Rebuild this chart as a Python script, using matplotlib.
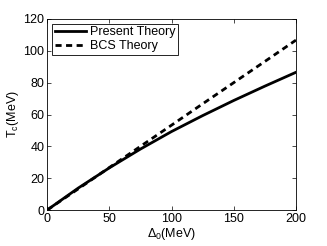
import matplotlib
matplotlib.use("Agg")
import matplotlib.pyplot as plt

plt.rcParams.update({"font.family": ["Liberation Sans", "DejaVu Sans"], "font.size": 9,
                     "mathtext.fontset": "custom", "mathtext.rm": "Liberation Sans",
                     "mathtext.it": "Liberation Sans"})

delta0 = [0, 25, 50, 75, 100, 125, 150, 175, 200]
present = [0, 13.8, 26.5, 38.3, 49.3, 59.3, 68.8, 77.8, 86.5]
bcs = [0, 13.3, 26.7, 40.0, 53.3, 66.7, 80.0, 93.3, 106.7]

fig = plt.figure(figsize=(3.27, 2.46), dpi=100)
ax = fig.add_axes([0.144, 0.146, 0.761, 0.777])
ax.plot(delta0, present, "k-", lw=2, label="Present Theory")
ax.plot(delta0, bcs, "k--", lw=2, dashes=(2.2, 1.6), label="BCS Theory")
ax.set_xlim(0, 200)
ax.set_ylim(0, 120)
ax.set_xticks([0, 50, 100, 150, 200])
ax.set_yticks([0, 20, 40, 60, 80, 100, 120])
ax.tick_params(direction="in", top=True, right=True, length=3, width=0.5, pad=2)
for s in ax.spines.values():
    s.set_linewidth(0.6)
ax.set_xlabel("Δ$_0$(MeV)", labelpad=1)
ax.set_ylabel("T$_c$(MeV)", labelpad=2)
leg = ax.legend(loc="upper left", fancybox=False, edgecolor="k", framealpha=1,
                borderpad=0.2, handlelength=2.5, handletextpad=0.3, labelspacing=0.15,
                borderaxespad=0.4)
leg.get_frame().set_linewidth(0.6)
fig.savefig("out.png", dpi=100)
